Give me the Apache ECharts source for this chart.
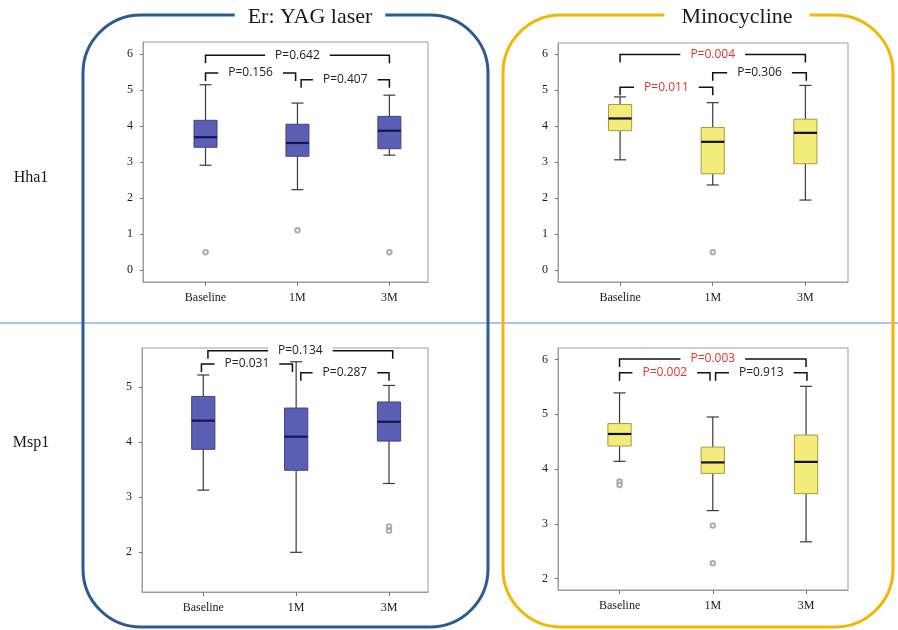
<!DOCTYPE html>
<html>
<head>
<meta charset="utf-8">
<script src="https://cdn.jsdelivr.net/npm/echarts@6/dist/echarts.min.js"></script>
<style>html,body{margin:0;padding:0;background:#fff}#c{width:898px;height:630px}</style>
</head>
<body>
<div id="c"></div>
<script>
// ---------- data ----------
const categories = ['Baseline', '1M', '3M'];
const groupTitles = ['Er: YAG laser', 'Minocycline'];
const rowLabels = ['Hha1', 'Msp1'];

// box stats per category: [lower whisker, Q1, median, Q3, upper whisker]
const hhaLaser = [[2.91, 3.41, 3.69, 4.16, 5.15], [2.23, 3.16, 3.53, 4.05, 4.64], [3.19, 3.37, 3.87, 4.27, 4.86]];
const hhaMino  = [[3.06, 3.87, 4.21, 4.60, 4.81], [2.36, 2.67, 3.56, 3.96, 4.65], [1.94, 2.95, 3.81, 4.19, 5.13]];
const mspLaser = [[3.13, 3.87, 4.39, 4.83, 5.22], [2.00, 3.49, 4.10, 4.62, 5.46], [3.25, 4.02, 4.37, 4.73, 5.03]];
const mspMino  = [[4.14, 4.42, 4.64, 4.83, 5.39], [3.24, 3.92, 4.12, 4.40, 4.95], [2.67, 3.55, 4.13, 4.62, 5.51]];

// outliers: [category index, value]
const hhaLaserOut = [[0, 0.49], [1, 1.10], [2, 0.49]];
const hhaMinoOut  = [[1, 0.49]];
const mspLaserOut = [[2, 2.47], [2, 2.39]];
const mspMinoOut  = [[0, 3.77], [0, 3.71], [1, 2.97], [1, 2.28]];

// comparison brackets: [from, to, level, label, highlighted]
const hhaLaserP = [[0, 2, 5.97, 'P=0.642', false], [0, 0.98, 5.48, 'P=0.156', false], [1.04, 2, 5.29, 'P=0.407', false]];
const hhaMinoP  = [[0, 2, 5.99, 'P=0.004', true], [0, 1, 5.08, 'P=0.011', true], [1, 2.01, 5.48, 'P=0.306', false]];
const mspLaserP = [[0.05, 2.04, 5.66, 'P=0.134', false], [-0.02, 0.96, 5.42, 'P=0.031', false], [1.05, 2, 5.26, 'P=0.287', false]];
const mspMinoP  = [[0, 2, 6.01, 'P=0.003', true], [0, 0.97, 5.76, 'P=0.002', true], [1.03, 2.01, 5.76, 'P=0.913', false]];

// y tick labels
const yTicksHha = [0, 1, 2, 3, 4, 5, 6];
const yTicksMspLaser = [2, 3, 4, 5];
const yTicksMspMino = [2, 3, 4, 5, 6];

// ---------- layout / style ----------
const panels = [
  { stats: hhaLaser, out: hhaLaserOut, p: hhaLaserP, ticks: yTicksHha, fill: '#5b5fb3', stroke: '#3f4294', med: '#15164a',
    grid: { left: 143, top: 42, width: 285, height: 240 }, ymin: -0.34, ymax: 6.34, xmin: -0.68, xmax: 2.42 },
  { stats: hhaMino, out: hhaMinoOut, p: hhaMinoP, ticks: yTicksHha, fill: '#f3ec7a', stroke: '#a89c3c', med: '#111',
    grid: { left: 558, top: 43, width: 290, height: 239 }, ymin: -0.34, ymax: 6.31, xmin: -0.67, xmax: 2.46 },
  { stats: mspLaser, out: mspLaserOut, p: mspLaserP, ticks: yTicksMspLaser, fill: '#5b5fb3', stroke: '#3f4294', med: '#15164a',
    grid: { left: 142, top: 348, width: 286, height: 244 }, ymin: 1.28, ymax: 5.71, xmin: -0.66, xmax: 2.42 },
  { stats: mspMino, out: mspMinoOut, p: mspMinoP, ticks: yTicksMspMino, fill: '#f3ec7a', stroke: '#a89c3c', med: '#111',
    grid: { left: 558, top: 348, width: 290, height: 242 }, ymin: 1.79, ymax: 6.21, xmin: -0.66, xmax: 2.45 }
];

const serif = "'Times New Roman', 'Liberation Serif', 'DejaVu Serif', serif";
const sans = "'Open Sans', 'Noto Sans', 'Liberation Sans', sans-serif";

const grids = [], xAxes = [], yAxes = [], series = [];

panels.forEach((pn, k) => {
  grids.push(Object.assign({ show: true, borderColor: '#9c9c9c', borderWidth: 1, backgroundColor: 'transparent' }, pn.grid));
  xAxes.push({
    type: 'value', gridIndex: k, min: pn.xmin, max: pn.xmax, position: 'bottom',
    axisLine: { show: true, onZero: false, lineStyle: { color: '#9c9c9c' } },
    axisTick: { show: true, customValues: [0, 1, 2], length: 4, lineStyle: { color: '#777' } },
    axisLabel: { customValues: [0, 1, 2], formatter: v => categories[Math.round(v)] || '', fontFamily: serif, fontSize: 12, color: '#1a1a1a', margin: 10 },
    splitLine: { show: false }
  });
  yAxes.push({
    type: 'value', gridIndex: k, min: pn.ymin, max: pn.ymax, position: 'left',
    axisLine: { show: true, onZero: false, lineStyle: { color: '#9c9c9c' } },
    axisTick: { show: true, customValues: pn.ticks, length: 3, lineStyle: { color: '#777' } },
    axisLabel: { customValues: pn.ticks, fontFamily: serif, fontSize: 12, color: '#1a1a1a', margin: 10 },
    splitLine: { show: false }
  });

  // boxes
  series.push({
    type: 'custom', xAxisIndex: k, yAxisIndex: k, z: 3,
    data: pn.stats.map((s, i) => [i].concat(s)),
    renderItem: function (params, api) {
      const x = api.value(0);
      const lo = api.coord([x, api.value(1)]);
      const q1 = api.coord([x, api.value(2)]);
      const md = api.coord([x, api.value(3)]);
      const q3 = api.coord([x, api.value(4)]);
      const hi = api.coord([x, api.value(5)]);
      const bw = api.size([0.25, 0])[0];
      const cw = api.size([0.13, 0])[0];
      const cx = lo[0];
      const wl = { stroke: '#3a3a3a', lineWidth: 1.2 };
      return {
        type: 'group',
        children: [
          { type: 'line', shape: { x1: cx, y1: lo[1], x2: cx, y2: q1[1] }, style: wl },
          { type: 'line', shape: { x1: cx, y1: q3[1], x2: cx, y2: hi[1] }, style: wl },
          { type: 'line', shape: { x1: cx - cw / 2, y1: lo[1], x2: cx + cw / 2, y2: lo[1] }, style: wl },
          { type: 'line', shape: { x1: cx - cw / 2, y1: hi[1], x2: cx + cw / 2, y2: hi[1] }, style: wl },
          { type: 'rect', shape: { x: cx - bw / 2, y: q3[1], width: bw, height: q1[1] - q3[1] },
            style: { fill: pn.fill, stroke: pn.stroke, lineWidth: 1 } },
          { type: 'line', shape: { x1: cx - bw / 2, y1: md[1], x2: cx + bw / 2, y2: md[1] },
            style: { stroke: pn.med, lineWidth: 2.2 } }
        ]
      };
    }
  });

  // outliers
  series.push({
    type: 'scatter', xAxisIndex: k, yAxisIndex: k, z: 3,
    data: pn.out, symbol: 'emptyCircle', symbolSize: 4.5,
    itemStyle: { color: '#999', borderColor: '#999', borderWidth: 1 }
  });

  // brackets
  const pArr = pn.p;
  series.push({
    type: 'custom', xAxisIndex: k, yAxisIndex: k, z: 5, clip: false,
    data: pArr.map(b => [b[0], b[1], b[2]]),
    renderItem: function (params, api) {
      const b = pArr[params.dataIndex];
      const a = api.coord([api.value(0), api.value(2)]);
      const c = api.coord([api.value(1), api.value(2)]);
      const d = 8;
      return {
        type: 'group',
        children: [
          { type: 'polyline', shape: { points: [[a[0], a[1] + d], [a[0], a[1]], [c[0], c[1]], [c[0], c[1] + d]] },
            style: { stroke: '#111', lineWidth: 1.5, fill: null } },
          { type: 'text', x: (a[0] + c[0]) / 2, y: a[1], z2: 10,
            style: { text: b[3], fill: b[4] ? '#e3342f' : '#222', font: '12px ' + sans,
              align: 'center', verticalAlign: 'middle', backgroundColor: '#fff', padding: [1, 10] } }
        ]
      };
    }
  });
});

const graphics = [
  { type: 'line', shape: { x1: 0, y1: 323, x2: 898, y2: 323 }, style: { stroke: '#8fb3dd', lineWidth: 1.5 }, z: 0 },
  { type: 'rect', shape: { x: 83, y: 15, width: 405, height: 612, r: 58 }, style: { fill: null, stroke: '#2d5b91', lineWidth: 3 }, z: 1 },
  { type: 'rect', shape: { x: 503, y: 15, width: 390, height: 612, r: 58 }, style: { fill: null, stroke: '#f2b705', lineWidth: 3 }, z: 1 },
  { type: 'text', x: 310, y: 17, z: 2, style: { text: groupTitles[0], font: '22px ' + serif, fill: '#1a1a1a', align: 'center', verticalAlign: 'middle', backgroundColor: '#fff', padding: [2, 13] } },
  { type: 'text', x: 737, y: 17, z: 2, style: { text: groupTitles[1], font: '22px ' + serif, fill: '#1a1a1a', align: 'center', verticalAlign: 'middle', backgroundColor: '#fff', padding: [2, 17] } },
  { type: 'text', x: 31, y: 178, z: 2, style: { text: rowLabels[0], font: '16px ' + serif, fill: '#1a1a1a', align: 'center', verticalAlign: 'middle' } },
  { type: 'text', x: 31, y: 443, z: 2, style: { text: rowLabels[1], font: '16px ' + serif, fill: '#1a1a1a', align: 'center', verticalAlign: 'middle' } }
];

const chart = echarts.init(document.getElementById('c'), null, { renderer: 'canvas' });
chart.setOption({
  animation: false,
  backgroundColor: '#fff',
  grid: grids, xAxis: xAxes, yAxis: yAxes, series: series,
  graphic: graphics
});
</script>
</body>
</html>
